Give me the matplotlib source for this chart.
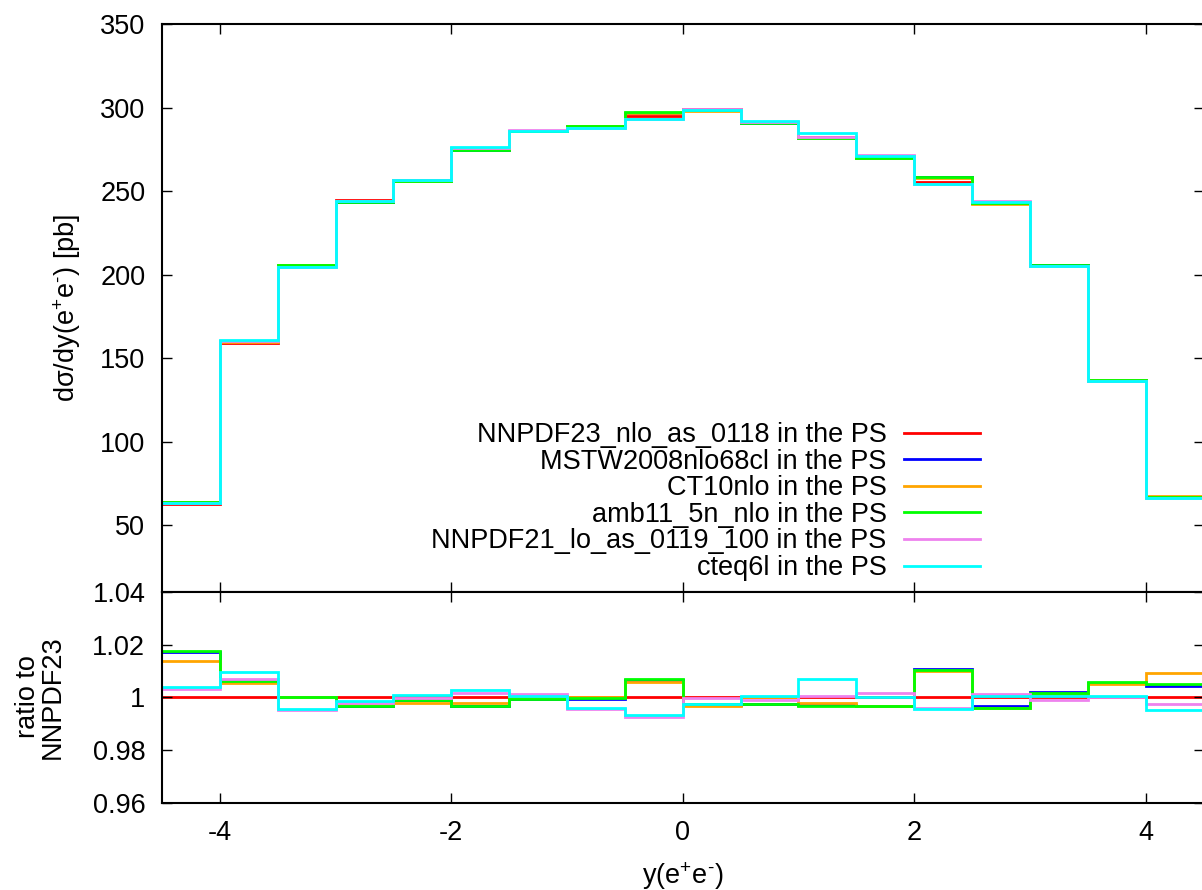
import matplotlib
matplotlib.use("Agg")
import matplotlib.pyplot as plt
import numpy as np

plt.rcParams["font.family"] = ["Liberation Sans", "DejaVu Sans"]
plt.rcParams["axes.unicode_minus"] = False
plt.rcParams["mathtext.fontset"] = "custom"
plt.rcParams["mathtext.rm"] = "Liberation Sans"
plt.rcParams["mathtext.it"] = "Liberation Sans"

# bin edges in y(e+e-)
edges = np.arange(-4.5, 4.51, 0.5)

# NNPDF23 central prediction [pb]
nnpdf23 = [62.8, 159.0, 205.6, 244.6, 256.6, 275.6, 286.0, 289.0, 295.2,
           299.2, 291.6, 282.6, 271.0, 255.6, 243.6, 205.2, 136.2, 66.6]

# ratios to NNPDF23
r_mstw = [1.0172, 1.0062, 1.0001, 0.9968, 0.9990, 0.9968, 0.9992, 0.9995, 1.0066,
          0.9972, 0.9974, 0.9970, 0.9968, 1.0107, 0.9967, 1.0022, 1.0055, 1.0042]
r_ct10 = [1.0137, 1.0053, 1.0000, 0.9972, 0.9978, 0.9978, 0.9999, 1.0001, 1.0057,
          0.9967, 1.0000, 0.9980, 0.9968, 1.0098, 0.9958, 1.0013, 1.0050, 1.0093]
r_amb11 = [1.0176, 1.0061, 1.0002, 0.9967, 0.9991, 0.9967, 0.9992, 0.9996, 1.0070,
           0.9973, 0.9973, 0.9968, 0.9967, 1.0105, 0.9961, 1.0017, 1.0058, 1.0050]
r_nnpdf21 = [1.0032, 1.0070, 0.9953, 0.9978, 0.9999, 1.0018, 1.0014, 0.9957, 0.9925,
             0.9996, 0.9990, 1.0004, 1.0017, 0.9958, 1.0014, 0.9990, 1.0000, 0.9973]
r_cteq6l = [1.0039, 1.0096, 0.9954, 0.9986, 1.0008, 1.0027, 1.0005, 0.9960, 0.9935,
            0.9973, 1.0006, 1.0070, 1.0000, 0.9957, 1.0006, 1.0006, 1.0005, 0.9952]
r_nnpdf23 = [1.0] * 18

labels = ["NNPDF23_nlo_as_0118 in the PS", "MSTW2008nlo68cl in the PS",
          "CT10nlo in the PS", "amb11_5n_nlo in the PS",
          "NNPDF21_lo_as_0119_100 in the PS", "cteq6l in the PS"]
colors = ["#ff0000", "#0000ff", "#ffa500", "#00ff00", "#ee82ee", "#00ffff"]
ratios = [r_nnpdf23, r_mstw, r_ct10, r_amb11, r_nnpdf21, r_cteq6l]

FS = 19.5
W, H = 1202, 890
fig = plt.figure(figsize=(W / 100, H / 100), dpi=100)
x0, x1 = 162, 1203.5
ytop, ymid, ybot = 24.3, 591.7, 803
ax1 = fig.add_axes([x0 / W, 1 - ymid / H, (x1 - x0) / W, (ymid - ytop) / H])
ax2 = fig.add_axes([x0 / W, 1 - ybot / H, (x1 - x0) / W, (ybot - ymid) / H])

central = np.array(nnpdf23)
for lab, col, r in zip(labels, colors, ratios):
    vals = central * np.array(r)
    ax1.stairs(vals, edges, color=col, lw=2.0, label=lab, baseline=None)
    ax2.stairs(np.array(r), edges, color=col, lw=2.0, baseline=None)

ax1.set_xlim(-4.5, 4.5)
ax1.set_ylim(10, 350)
ax1.set_yticks([50, 100, 150, 200, 250, 300, 350])
ax1.set_xticks([-4, -2, 0, 2, 4])
ax1.tick_params(labelbottom=False)

ax2.set_xlim(-4.5, 4.5)
ax2.set_ylim(0.96, 1.04)
ax2.set_xticks([-4, -2, 0, 2, 4])
ax2.set_yticks([0.96, 0.98, 1.0, 1.02, 1.04])
ax2.set_yticklabels(["0.96", "0.98", "1", "1.02", "1.04"])

for ax in (ax1, ax2):
    ax.tick_params(direction="in", top=True, right=True, length=7, width=1,
                   labelsize=FS, pad=12)
    for s in ax.spines.values():
        s.set_linewidth(1.5)

ax1.set_ylabel("dσ/dy(e$^{+}$e$^{\\text{-}}$) [pb]", fontsize=FS)
ax1.yaxis.set_label_coords(83 / W, 1 - 308 / H, transform=fig.transFigure)
ax2.set_ylabel("ratio to\nNNPDF23", fontsize=FS, linespacing=0.95)
ax2.yaxis.set_label_coords(66 / W, 1 - 697 / H, transform=fig.transFigure)
ax2.set_xlabel("y(e$^{+}$e$^{\\text{-}}$)", fontsize=FS)
ax2.xaxis.set_label_coords(683 / W, 1 - 860 / H, transform=fig.transFigure)

ax1.legend(loc="lower right", bbox_to_anchor=(980 / W, 1 - 581 / H),
           bbox_transform=fig.transFigure, frameon=False, markerfirst=False,
           fontsize=FS, handlelength=2.8, handletextpad=0.65, labelspacing=0.02,
           borderpad=0, borderaxespad=0)

fig.savefig("out.png", dpi=100)
